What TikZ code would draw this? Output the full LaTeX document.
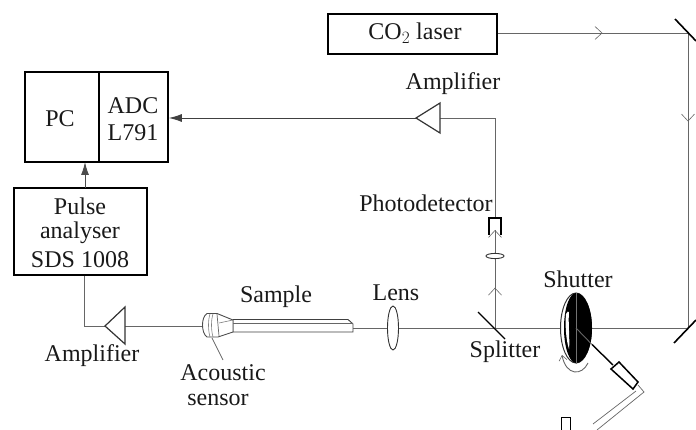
\documentclass[tikz,border=0pt]{standalone}
\usepackage{fontspec}
\setmainfont{Liberation Serif}
\usetikzlibrary{arrows.meta,decorations.markings,calc}
\tikzset{
  lbl/.style={inner sep=0pt,font=\fontsize{24}{26}\selectfont,text=black!90},
  beam/.style={draw=black!60,line width=0.9pt},
  thickk/.style={draw=black,line width=1.6pt},
  openarrow/.style={postaction={decorate},decoration={markings,mark=at position #1 with {\arrow{Straight Barb[length=7pt,width=13pt,line width=0.6pt,black!60]}}}},
  solidarrow/.style={-{Latex[length=13pt,width=8pt]}},
  tri/.style={draw=black!80,line width=1.2pt,fill=white}
}
\begin{document}
\begin{tikzpicture}[x=1pt,y=-1pt]
\useasboundingbox (0,0) rectangle (696,430);
% boxes
\node[draw=black,line width=1.7pt,minimum width=74pt,minimum height=90pt,inner sep=0pt] (pc) at (62,117) {};
\node[draw=black,line width=1.7pt,minimum width=69pt,minimum height=90pt,inner sep=0pt] (adc) at (133.5,117) {};
\node[draw=black,line width=1.7pt,minimum width=133pt,minimum height=87pt,inner sep=0pt] (pulse) at (80.5,231.5) {};
\node[draw=black,line width=1.7pt,minimum width=169pt,minimum height=40pt,inner sep=0pt] (co2) at (412.5,34) {};
\node[lbl] (tpc) at (60,119) {PC};
\node[lbl] (tadc) at (133,106) {ADC};
\node[lbl] (tl) at (133,133) {L791};
\node[lbl] (tp1) at (80,206) {Pulse};
\node[lbl] (tp2) at (80,233) {analyser};
\node[lbl] (tp3) at (80,260) {SDS 1008};
\node[lbl] (tco) at (415,33) {CO$_2$ laser};
% coordinates
\coordinate (m1) at (688,33);
\coordinate (m2) at (688,328);
\coordinate (split) at (495,328);
\coordinate (corner) at (495,118);
\coordinate (amp1tip) at (416,118);
\coordinate (amp1base) at (440,118);
\coordinate (amp2tip) at (105,326);
\coordinate (amp2base) at (125,326);
\coordinate (cornerb) at (84,326);
\coordinate (sensL) at (203,326);
\coordinate (samR) at (353,328);
% beams
\draw[beam,openarrow=0.55] (co2.east |- m1) -- (m1);
\draw[beam,openarrow=0.30] (m1) -- (m2);
\draw[beam] (m2) -- (samR);
\draw[beam,openarrow=0.42] (split) -- (495,232);
\draw[beam,openarrow=1] (495,262) -- (495,230);
\draw[beam] (495,218) -- (corner) -- (amp1base);
\draw[draw=black!75,line width=0.9pt,solidarrow] (amp1tip) -- (adc.east |- amp1tip);
\draw[draw=black!70,line width=0.9pt,solidarrow] (85,188) -- (85,162);
\draw[beam] (pulse.south -| cornerb) -- (cornerb) -- (amp2tip);
\draw[beam] (amp2base) -- (sensL);
% triangles
\draw[tri] (amp1tip) -- (440,103) -- (440,133) -- cycle;
\draw[tri] (amp2tip) -- (125,307) -- (125,344) -- cycle;
% mirrors
\draw[thickk] (675,19) -- (696,41);
\draw[thickk] (674,343) -- (696,320);
\draw[draw=black,line width=1.1pt] (478,312) -- (505,339);
% photodetector
\draw[thickk] (489,235) -- (489,218) -- (501,218) -- (501,235);
\draw[draw=black!80,line width=0.9pt,fill=white] (495,256) ellipse (9 and 2.6);
% lens
\draw[draw=black!80,line width=0.9pt,fill=white] (393,328) ellipse (5.5 and 22);
% sample
\draw[draw=black!75,line width=0.9pt,fill=white] (233,319.5) -- (348,319.5) -- (353,324) -- (353,332) -- (233,332) -- cycle;
\draw[draw=black!60,line width=0.8pt] (233,323.5) -- (353,323.5);
% sensor
\draw[draw=black!70,line width=0.9pt,fill=white] (207,313.5) -- (217,313.5) -- (233,320) -- (233,332) -- (218,337) -- (207,337) .. controls (201,333) and (201,317) .. (207,313.5);
\draw[draw=black!50,line width=0.6pt] (210,314) .. controls (208,320) and (208,330) .. (210,337);
\draw[draw=black!50,line width=0.6pt] (213,314) .. controls (211,320) and (211,330) .. (213,337);
\draw[draw=black!60,line width=0.7pt] (217,314) -- (219,336);
\draw[draw=black!50,line width=0.6pt] (219,323) -- (233,320);
\draw[draw=black!60,line width=0.8pt] (212,338) -- (223,360);
% shutter
\draw[draw=black!80,line width=1pt,fill=white] (576,328) ellipse (15.5 and 35);
\begin{scope}
\clip (576,293) rectangle (595,364);
\fill[black] (576,328) ellipse (16 and 35);
\end{scope}
\begin{scope}
\clip (555,293) rectangle (576,364);
\fill[black] (576,328) ellipse (12 and 35);
\end{scope}
\fill[white] (566,314) .. controls (565,325) and (566,340) .. (569,349) .. controls (570,340) and (568,322) .. (569,312) .. controls (568.5,311) and (567,311.5) .. (566,314) -- cycle;
\draw[draw=black!55,line width=0.8pt] (576,293.5) -- (576,363.5);
\draw[draw=black!60,line width=0.9pt,-{Straight Barb[length=5pt,width=8pt,line width=0.6pt]}] (588,363) .. controls (582,376) and (566,376) .. (562,355);
\draw[draw=black!60,line width=0.9pt] (576,328) -- (592,344.5);
\draw[draw=black,line width=1.4pt] (592,344.5) -- (613,365);
% motor
\draw[draw=black,line width=1.5pt,fill=white] (619,362) -- (638,382) -- (633,389) -- (611,369) -- cycle;
\draw[draw=black!60,line width=0.7pt] (636,391) -- (593,424);
\draw[draw=black!60,line width=0.7pt] (638,385) -- (644,392) -- (597,430);
% bottom photodetector
\draw[thickk] (561.5,430) -- (561.5,417.5) -- (570.5,417.5) -- (570.5,430);
% labels
\node[lbl] (ta1) at (453,84) {Amplifier};
\node[lbl] (tph) at (426,203) {Photodetector};
\node[lbl] (tsa) at (276,297) {Sample};
\node[lbl] (tle) at (396,293) {Lens};
\node[lbl] (tsh) at (578,279) {Shutter};
\node[lbl] (tsp) at (505,352) {Splitter};
\node[lbl] (ta2) at (92,356) {Amplifier};
\node[lbl] (tac) at (223,373) {Acoustic};
\node[lbl] (tse) at (218,400) {sensor};
\end{tikzpicture}
\end{document}
